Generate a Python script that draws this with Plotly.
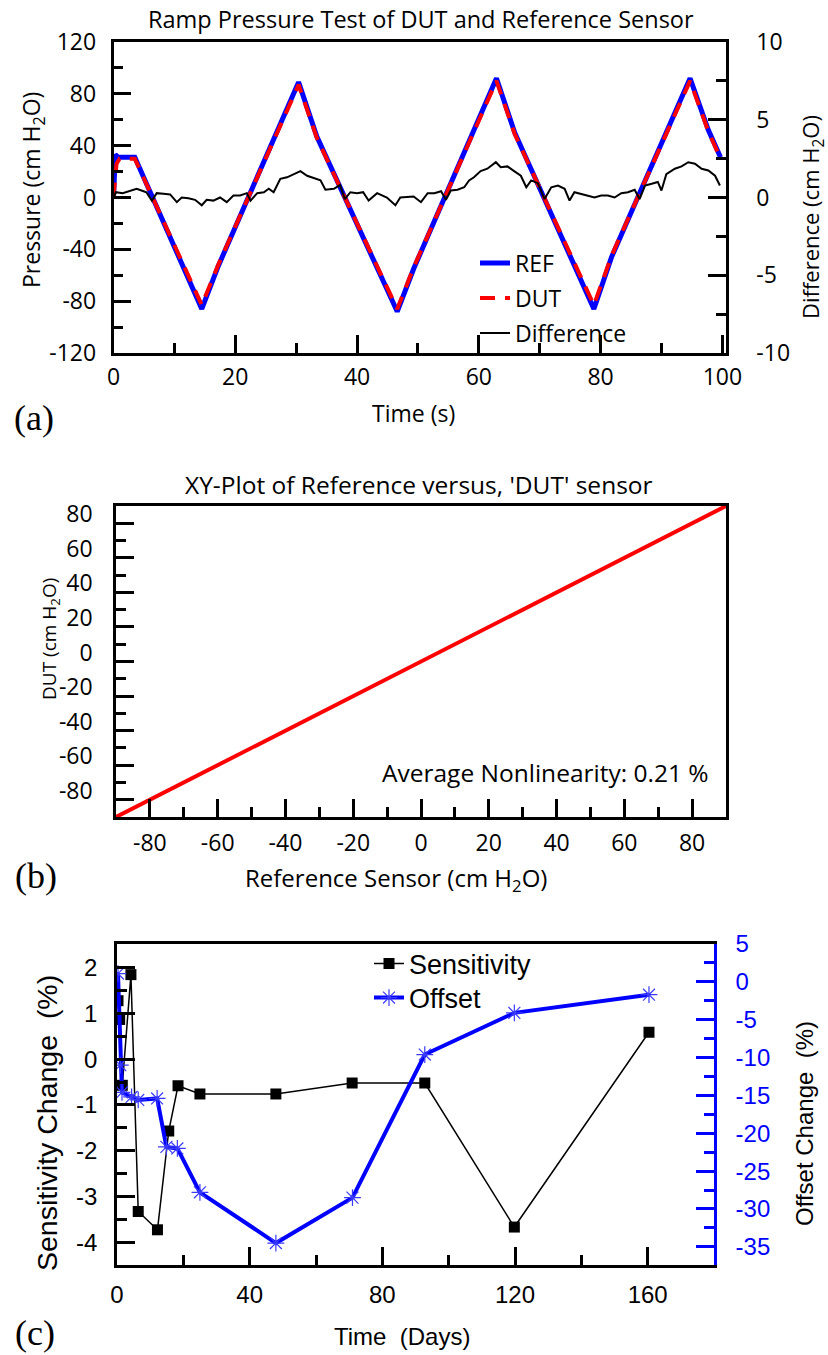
import plotly.graph_objects as go

W, H = 828, 1355
def px(x): return x / W
def py(y): return 1 - y / H

# ---------------- data: panel (a) ----------------
ref_t = [0, 0.3, 0.8, 3.5, 14.5, 17.2, 30.4, 33.4, 46.6, 49.3, 62.9, 65.9, 78.9, 81.8, 94.7, 97.7, 99.7]
ref_p = [0, 33, 31, 31, -86, -53, 89, 47, -88, -55, 92, 50, -86, -46, 92, 52, 31]
dut_t = [0, 0.5, 1.0, 3.5, 14.5, 17.2, 30.4, 33.4, 46.6, 49.3, 62.9, 65.9, 78.9, 81.8, 94.7, 97.7, 99.7]
dut_p = [0, 26, 30, 30, -83, -52, 87, 46, -86, -54, 90, 49, -83, -45, 90, 51, 30]
diff_t = [0, 0.4, 1.5, 2.6, 3.8, 4.6, 5.4, 6.3, 7.1, 8.2, 9.3, 10.4, 11.2, 12.3, 13.4, 14.5,
          15.3, 16.4, 17.5, 18.6, 19.7, 20.8, 21.9, 22.5, 23.6, 24.7, 25.5, 26.3, 27.4, 28.5,
          29.6, 30.7, 31.8, 32.9, 34.0, 34.8, 36.2, 37.2, 38.0, 38.9, 40.0, 41.0, 41.9, 43.3,
          44.9, 46.3, 47.1, 49.3, 50.5, 51.6, 52.7, 53.8, 54.6, 55.4, 56.5, 57.6, 58.4, 59.2,
          60.3, 61.4, 62.8, 63.6, 64.7, 65.8, 66.9, 67.8, 68.6, 69.7, 70.8, 71.9, 73.0, 74.1,
          74.9, 75.7, 76.8, 77.9, 79.0, 80.1, 81.2, 82.3, 83.4, 84.5, 85.6, 86.4, 87.3, 88.4,
          89.4, 90.0, 90.8, 92.2, 93.3, 94.4, 95.5, 96.6, 97.7, 98.8, 99.6]
diff_v = [0, 0.34, 0.28, 0.4, 0.56, 0.45, 0.34, -0.2, 0.28, 0.24, 0.2, -0.3, 0, -0.05, -0.15, -0.5,
          -0.15, -0.2, 0, -0.3, 0.13, 0.13, 0.28, -0.2, 0.28, 0.34, 0.56, 0.34, 1.2, 1.3,
          1.5, 1.7, 1.4, 1.27, 1.1, 0.5, 0.56, 0.8, -0.1, 0.34, 0.28, 0.34, -0.2, 0.28,
          0, -0.5, 0, 0.06, -0.3, 0.28, 0.28, 0.4, -0.15, 0.45, 0.5, 0.66, 1.1, 1.3,
          1.7, 1.85, 2.27, 1.95, 2.0, 1.7, 1.4, 0.66, 1.1, 0.92, -0.1, 0.66, 0.77, 0.56,
          -0.2, 0.34, 0.24, 0.13, 0, 0.13, 0.13, 0, 0.28, 0.34, 0.5, -0.1, 0.77, 0.88,
          1.0, 0.45, 1.5, 1.85, 2.0, 2.27, 2.17, 1.85, 1.74, 1.4, 0.77]

# ---------------- data: panel (b) ----------------
xy_ref = [-90, 90]
xy_dut = [-90, 90]

# ---------------- data: panel (c) ----------------
sens_days = [0.3, 0.8, 1.6, 4.2, 6.4, 12.2, 15.6, 18.4, 25.0, 47.9, 70.9, 92.8, 119.8, 160.4]
sens_val = [1.28, 0.87, -0.57, 1.85, -3.33, -3.73, -1.57, -0.58, -0.76, -0.76, -0.52, -0.52, -3.67, 0.59]
off_days = [0.3, 1.0, 1.5, 4.4, 6.4, 12.1, 14.9, 18.2, 25.0, 47.9, 71.0, 92.8, 119.8, 160.4]
off_val = [1.1, -11.0, -14.6, -15.2, -15.6, -15.4, -21.8, -22.0, -27.8, -34.5, -28.5, -9.6, -4.1, -1.7]

# tick labels
a_x_ticks = [0, 20, 40, 60, 80, 100]
a_y_ticks = [-120, -80, -40, 0, 40, 80, 120]
a_y2_ticks = [-10, -5, 0, 5, 10]
b_ticks = [-80, -60, -40, -20, 0, 20, 40, 60, 80]
c_x_ticks = [0, 40, 80, 120, 160]
c_y_ticks = [-4, -3, -2, -1, 0, 1, 2]
c_y2_ticks = [-35, -30, -25, -20, -15, -10, -5, 0, 5]

def lab(v):
    return [str(t) for t in v]

BLUE = "#0000ff"
RED = "#ff0000"
SANS = "Open Sans"
ARIAL = "Liberation Sans"
NB = "\u00a0"

fig = go.Figure()
fig.add_trace(go.Scatter(x=ref_t, y=ref_p, mode="lines", name="REF", legend="legend",
                         line=dict(color=BLUE, width=5), xaxis="x", yaxis="y"))
fig.add_trace(go.Scatter(x=dut_t, y=dut_p, mode="lines", name="DUT", legend="legend4",
                         line=dict(color=RED, width=4, dash="15px,10px"), xaxis="x", yaxis="y"))
fig.add_trace(go.Scatter(x=diff_t, y=diff_v, mode="lines", name="Difference", legend="legend5",
                         line=dict(color="black", width=2), xaxis="x", yaxis="y2"))
fig.add_trace(go.Scatter(x=xy_ref, y=xy_dut, mode="lines", showlegend=False,
                         line=dict(color=RED, width=4), xaxis="x2", yaxis="y3"))
fig.add_trace(go.Scatter(x=sens_days, y=sens_val, mode="lines+markers", name="Sensitivity",
                         line=dict(color="black", width=1.5),
                         marker=dict(symbol="square", size=11, color="black"),
                         xaxis="x3", yaxis="y4", legend="legend2"))
fig.add_trace(go.Scatter(x=off_days, y=off_val, mode="lines+markers", name="Offset",
                         line=dict(color=BLUE, width=4),
                         marker=dict(symbol="asterisk-open", size=14, color="#3a3aff",
                                     line=dict(width=1.2, color="#3a3aff")),
                         xaxis="x3", yaxis="y5", legend="legend3"))

def ax(rng, vals, minor_dtick, font, color="black", **kw):
    d = dict(range=rng, tickmode="array", tickvals=vals, ticktext=lab(vals),
             ticks="inside", ticklen=18, tickwidth=2.5, tickcolor=color,
             showline=True, linewidth=2.5, linecolor=color, showgrid=False, zeroline=False,
             tickfont=font, automargin=False,
             minor=dict(tickmode="linear", tick0=0, dtick=minor_dtick, ticks="inside",
                        ticklen=10, tickwidth=2.5, tickcolor=color, showgrid=False))
    d.update(kw)
    return d

fa = dict(family=SANS, size=23, color="black")
fb = dict(family=SANS, size=23, color="black")
fc = dict(family=ARIAL, size=24, color="black")
fc2 = dict(family=ARIAL, size=24, color=BLUE)

def leg(xp, yp, font):
    return dict(x=px(xp), y=py(yp), xanchor="left", yanchor="middle",
                bgcolor="rgba(0,0,0,0)", borderwidth=0, font=font)

la_font = dict(family=SANS, size=23, color="black")
lc_font = dict(family=ARIAL, size=27, color="black")

fig.update_layout(
    width=W, height=H, margin=dict(l=0, r=0, t=0, b=0, autoexpand=False),
    paper_bgcolor="white", plot_bgcolor="white",
    xaxis=ax([0, 100.6], a_x_ticks, 10, fa, domain=[px(113.5), px(726)], anchor="y",
             mirror=True, ticklabelstandoff=2),
    yaxis=ax([-120, 120], a_y_ticks, 20, fa, domain=[py(353), py(42)], anchor="x",
             ticklabelstandoff=10),
    yaxis2=ax([-10, 10], a_y2_ticks, 2.5, fa, overlaying="y", side="right", anchor="x",
              ticklabelstandoff=23),
    xaxis2=ax([-90, 90], b_ticks, 10, fb, domain=[px(116), px(726)], anchor="y3",
              mirror=True, ticklabelstandoff=4),
    yaxis3=ax([-90, 90], b_ticks, 10, fb, domain=[py(817), py(506)], anchor="x2",
              mirror=True, ticklabelstandoff=16, ticklabelshift=-9),
    xaxis3=ax([0, 180], c_x_ticks, 20, fc, domain=[px(117), px(714)], anchor="y4",
              mirror=True, ticklabelstandoff=6),
    yaxis4=ax([-4.5, 2.52], c_y_ticks, 0.5, fc, domain=[py(1265), py(944)], anchor="x3",
              ticklabelstandoff=12),
    yaxis5=ax([-37.4, 5], c_y2_ticks, 2.5, fc2, color=BLUE, overlaying="y4", side="right",
              anchor="x3", ticklabelstandoff=14),
    legend=leg(475, 263, la_font),
    legend4=leg(475, 298, la_font),
    legend5=leg(475, 333, la_font),
    legend2=leg(369, 964, lc_font),
    legend3=leg(369, 998, lc_font),
)

ann = [
    dict(text="Ramp Pressure Test of DUT and Reference Sensor", x=px(421), y=py(19),
         font=dict(family=SANS, size=23.5)),
    dict(text="Pressure (cm H<sub>2</sub>O)", x=px(33), y=py(190), textangle=-90,
         font=dict(family=SANS, size=23)),
    dict(text="Difference (cm H<sub>2</sub>O)", x=px(812), y=py(217), textangle=-90,
         font=dict(family=SANS, size=22)),
    dict(text="Time (s)", x=px(413), y=py(413), font=dict(family=SANS, size=23)),
    dict(text="(a)", x=px(34), y=py(418), font=dict(family="Liberation Serif", size=36)),
    dict(text="XY-Plot of Reference versus, 'DUT' sensor", x=px(419), y=py(484),
         font=dict(family=SANS, size=24.5)),
    dict(text="DUT (cm H<sub>2</sub>O)", x=px(50), y=py(639), textangle=-90,
         font=dict(family=SANS, size=19)),
    dict(text="Average Nonlinearity: 0.21 %", x=px(711), y=py(772), xanchor="right",
         font=dict(family=SANS, size=24.5)),
    dict(text="Reference Sensor (cm H<sub>2</sub>O)", x=px(396), y=py(879),
         font=dict(family=SANS, size=24)),
    dict(text="(b)", x=px(36), y=py(876), font=dict(family="Liberation Serif", size=36)),
    dict(text="Sensitivity Change" + NB + NB + "(%)", x=px(47), y=py(1123), textangle=-90,
         font=dict(family=ARIAL, size=28.5)),
    dict(text="Offset Change" + NB + NB + "(%)", x=px(804), y=py(1124), textangle=-90,
         font=dict(family=ARIAL, size=24)),
    dict(text="Time" + NB + NB + "(Days)", x=px(402), y=py(1336), font=dict(family=ARIAL, size=24)),
    dict(text="(c)", x=px(35), y=py(1333), font=dict(family="Liberation Serif", size=36)),
]
for a in ann:
    a.setdefault("xref", "paper")
    a.setdefault("yref", "paper")
    a.setdefault("showarrow", False)
    a.setdefault("xanchor", "center")
    a.setdefault("yanchor", "middle")
    a["font"].setdefault("color", "black")
fig.update_layout(annotations=ann)

fig.write_html("out.html", config={"displayModeBar": False},
               post_script="document.body.style.margin='0px';")
